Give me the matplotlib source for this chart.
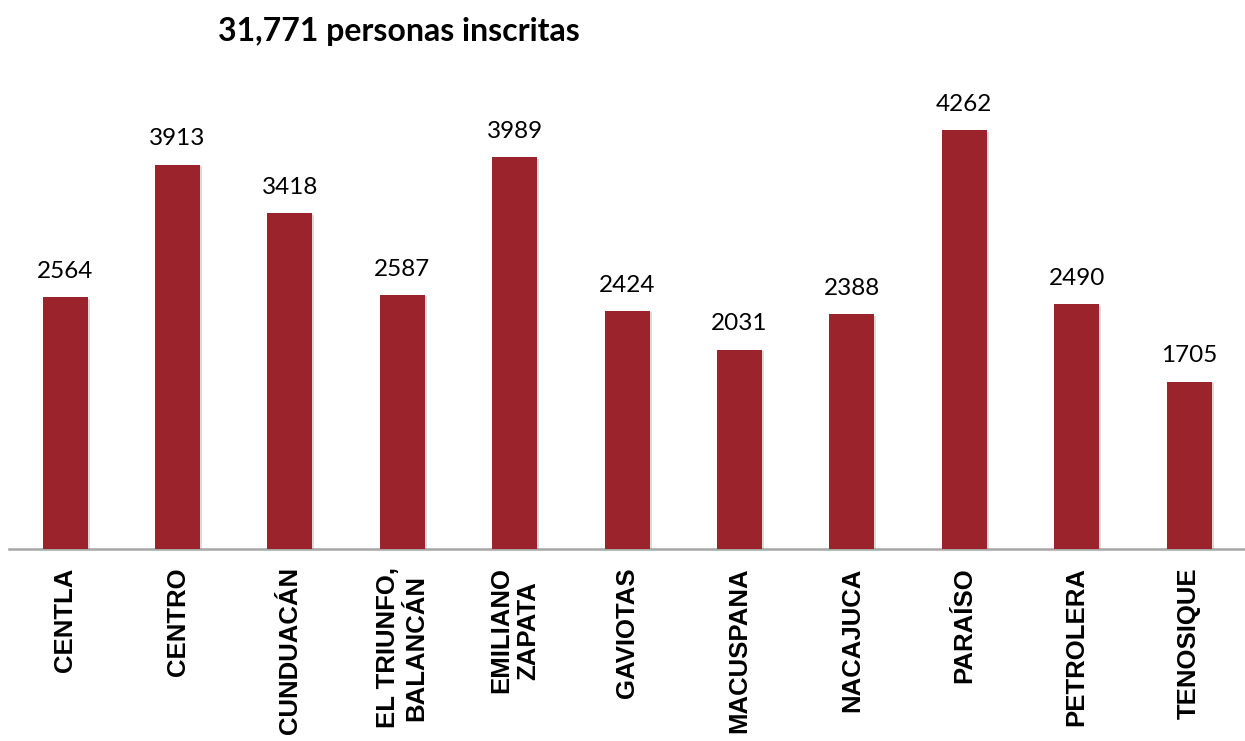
import matplotlib.pyplot as plt
import matplotlib.patheffects as pe

municipios = ["CENTLA", "CENTRO", "CUNDUACÁN", "EL TRIUNFO,\nBALANCÁN", "EMILIANO\nZAPATA",
              "GAVIOTAS", "MACUSPANA", "NACAJUCA", "PARAÍSO", "PETROLERA", "TENOSIQUE"]
inscritos = [2564, 3913, 3418, 2587, 3989, 2424, 2031, 2388, 4262, 2490, 1705]
titulo = "31,771 personas inscritas"

fig = plt.figure(figsize=(12.45, 7.41), dpi=100)
ax = fig.add_axes([0.0072, 0.259, 0.993, 0.663])

x = range(len(municipios))
bars = ax.bar(x, inscritos, width=0.4, color="#9B232C", zorder=3)
for b in bars:
    b.set_path_effects([pe.SimplePatchShadow(offset=(1.5, -1), shadow_rgbFace="#888888", alpha=0.3),
                        pe.Normal()])

ax.bar_label(bars, labels=[str(v) for v in inscritos], padding=11,
             fontsize=17.5, family="Lato", color="black")

ax.set_xlim(-0.5, len(municipios) - 0.5)
ax.set_ylim(0, 5000)
ax.set_xticks(list(x))
ax.set_xticklabels(municipios, rotation=90, ha="center", va="top", multialignment="center",
                   fontsize=18.5, fontweight="bold", family="Liberation Sans", linespacing=1.2)
ax.tick_params(axis="x", length=0, pad=13)
ax.set_yticks([])
for s in ["top", "right", "left"]:
    ax.spines[s].set_visible(False)
ax.spines["bottom"].set_color("#A6A6A6")
ax.spines["bottom"].set_linewidth(1.8)

fig.text(0.32, 0.958, titulo, ha="center", va="center", fontsize=23,
         fontweight="bold", family="Lato")

fig.savefig("out.png", dpi=100)
